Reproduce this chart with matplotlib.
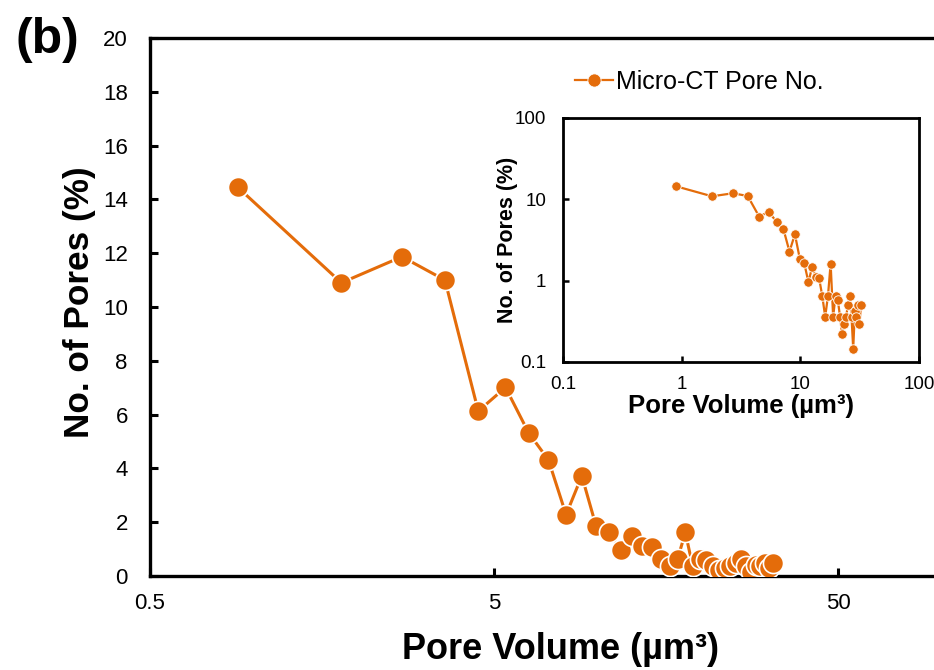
import matplotlib
matplotlib.use("Agg")
import matplotlib.pyplot as plt
from matplotlib.ticker import FixedLocator, NullLocator, FixedFormatter

plt.rcParams['font.family'] = ['Liberation Sans', 'DejaVu Sans']

# Data (pore volume in µm³, number of pores in %)
pore_volume = [0.9, 1.8, 2.7, 3.6, 4.5, 5.4, 6.3, 7.2, 8.1, 9.0,
               9.9, 10.8, 11.7, 12.6, 13.5, 14.4, 15.3, 16.2, 17.1, 18.0,
               18.9, 19.8, 20.7, 21.6, 22.5, 23.4, 24.3, 25.2, 26.1, 27.0,
               27.9, 28.8, 29.7, 30.6, 31.5, 32.4]
pore_pct = [14.45, 10.9, 11.87, 11.0, 6.13, 7.01, 5.33, 4.31, 2.28, 3.72,
            1.86, 1.63, 0.96, 1.49, 1.10, 1.07, 0.65, 0.36, 0.65, 1.62,
            0.36, 0.65, 0.58, 0.36, 0.22, 0.29, 0.36, 0.50, 0.65, 0.36,
            0.145, 0.42, 0.36, 0.50, 0.29, 0.50]

main_xticks = [0.5, 5, 50]
main_xticklabels = ["0.5", "5", "50"]
main_yticks = [0, 2, 4, 6, 8, 10, 12, 14, 16, 18, 20]
inset_ticks = [0.1, 1, 10, 100]
inset_ticklabels = ["0.1", "1", "10", "100"]

ORANGE = '#E46C0A'
W, H = 934, 670
fig = plt.figure(figsize=(W / 100, H / 100), dpi=100)

# ---- main axes (extends beyond the right edge, as in the reference) ----
L, R, T, B = 150, 1182, 38, 576
ax = fig.add_axes([L / W, 1 - B / H, (R - L) / W, (B - T) / H])
ax.plot(pore_volume, pore_pct, color=ORANGE, lw=2.2, marker='o', ms=14.5,
        mfc=ORANGE, mec='white', mew=1.2, zorder=3)
ax.set_xscale('log')
ax.set_xlim(0.5, 500)
ax.set_ylim(0, 20)
ax.xaxis.set_major_locator(FixedLocator(main_xticks))
ax.xaxis.set_major_formatter(FixedFormatter(main_xticklabels))
ax.xaxis.set_minor_locator(NullLocator())
ax.yaxis.set_major_locator(FixedLocator(main_yticks))
ax.yaxis.set_minor_locator(NullLocator())
for s in ax.spines.values():
    s.set_linewidth(2.4)
    s.set_color('black')
ax.tick_params(axis='both', direction='in', length=6, width=2.2,
               labelsize=16, colors='black')
ax.tick_params(axis='y', pad=16)
ax.tick_params(axis='x', pad=12)

fig.text(561 / W, 1 - 659 / H, "Pore Volume (µm³)", fontsize=26,
         fontweight='bold', ha='center', va='baseline')
fig.text(80 / W, 1 - 302 / H, "No. of Pores (%)", fontsize=25.3,
         fontweight='bold', ha='center', va='center', rotation=90)
fig.text(15 / W, 1 - 53 / H, "(b)", fontsize=36, fontweight='bold',
         ha='left', va='baseline')

# ---- inset ----
iL, iR, iT, iB = 563, 919, 118, 362
axi = fig.add_axes([iL / W, 1 - iB / H, (iR - iL) / W, (iB - iT) / H])
line_i, = axi.plot(pore_volume, pore_pct, color=ORANGE, lw=1.6, marker='o',
                   ms=6.8, mfc=ORANGE, mec='white', mew=0.6, zorder=3)
axi.set_xscale('log')
axi.set_yscale('log')
axi.set_xlim(0.1, 100)
axi.set_ylim(0.1, 100)
for a in (axi.xaxis, axi.yaxis):
    a.set_major_locator(FixedLocator(inset_ticks))
    a.set_major_formatter(FixedFormatter(inset_ticklabels))
    a.set_minor_locator(NullLocator())
for s in axi.spines.values():
    s.set_linewidth(2.0)
    s.set_color('black')
axi.tick_params(axis='both', direction='in', length=4, width=1.8,
                labelsize=13.5, colors='black')
axi.tick_params(axis='y', pad=12)
axi.tick_params(axis='x', pad=10)
axi.set_xlabel("Pore Volume (µm³)", fontsize=18.5, fontweight='bold', labelpad=1)
axi.set_ylabel("No. of Pores (%)", fontsize=15.5, fontweight='bold', labelpad=-2)

# ---- legend ----
fig.legend(handles=[line_i], labels=["Micro-CT Pore No."],
           loc='center left', bbox_to_anchor=(575 / W, 1 - 82 / H),
           bbox_transform=fig.transFigure, frameon=False, fontsize=18,
           handlelength=1.5, handletextpad=0.12, borderpad=0,
           borderaxespad=0, markerscale=1.4)

fig.savefig("out.png", dpi=100)
